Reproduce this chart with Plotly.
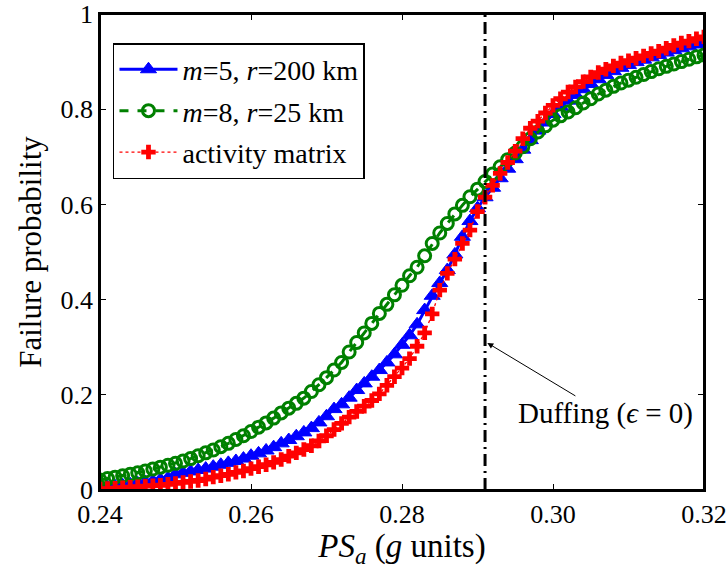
import plotly.graph_objects as go

# PSa values (g units), 0.240 .. 0.320 step 0.001
psa = [round(0.240 + 0.001 * i, 3) for i in range(81)]

blue_m5_r200 = [
    0.004, 0.006, 0.008, 0.010, 0.012, 0.014, 0.017, 0.019, 0.022, 0.025,
    0.033, 0.036, 0.039, 0.042, 0.045, 0.049, 0.053, 0.057, 0.061, 0.066,
    0.072, 0.077, 0.083, 0.090, 0.098, 0.105, 0.113, 0.121, 0.130, 0.142,
    0.155, 0.170, 0.180, 0.194, 0.210, 0.224, 0.238, 0.252, 0.268, 0.285,
    0.305, 0.325, 0.348, 0.378, 0.408, 0.435, 0.462, 0.495, 0.532, 0.565,
    0.592, 0.615, 0.635, 0.655, 0.675, 0.695, 0.715, 0.735, 0.755, 0.772,
    0.790, 0.805, 0.818, 0.830, 0.842, 0.853, 0.863, 0.872, 0.880, 0.887,
    0.893, 0.899, 0.904, 0.909, 0.914, 0.919, 0.924, 0.928, 0.932, 0.936,
    0.940,
]

green_m8_r25 = [
    0.021, 0.024, 0.027, 0.030, 0.033, 0.036, 0.040, 0.044, 0.048, 0.052,
    0.056, 0.061, 0.066, 0.072, 0.078, 0.084, 0.091, 0.098, 0.106, 0.114,
    0.123, 0.132, 0.141, 0.151, 0.162, 0.172, 0.182, 0.193, 0.207, 0.221,
    0.236, 0.252, 0.268, 0.290, 0.310, 0.330, 0.350, 0.371, 0.390, 0.410,
    0.430, 0.450, 0.468, 0.492, 0.518, 0.540, 0.560, 0.580, 0.598, 0.616,
    0.632, 0.648, 0.664, 0.679, 0.694, 0.708, 0.721, 0.738, 0.752, 0.765,
    0.777, 0.786, 0.794, 0.803, 0.813, 0.822, 0.832, 0.840, 0.848, 0.855,
    0.861, 0.867, 0.873, 0.879, 0.885, 0.890, 0.895, 0.900, 0.905, 0.910,
    0.914,
]

red_activity = [
    0.002, 0.003, 0.004, 0.005, 0.006, 0.007, 0.008, 0.009, 0.010, 0.012,
    0.014, 0.016, 0.018, 0.020, 0.023, 0.027, 0.030, 0.033, 0.037, 0.040,
    0.045, 0.049, 0.053, 0.058, 0.064, 0.071, 0.078, 0.085, 0.093, 0.103,
    0.114, 0.127, 0.140, 0.153, 0.165, 0.176, 0.188, 0.202, 0.220, 0.238,
    0.256, 0.276, 0.302, 0.330, 0.370, 0.420, 0.455, 0.485, 0.518, 0.546,
    0.585, 0.615, 0.640, 0.665, 0.688, 0.712, 0.738, 0.760, 0.775, 0.792,
    0.808, 0.822, 0.836, 0.847, 0.858, 0.868, 0.877, 0.884, 0.891, 0.897,
    0.902, 0.907, 0.912, 0.917, 0.922, 0.928, 0.934, 0.939, 0.943, 0.948,
    0.952,
]

duffing_x = 0.291
duffing_arrow_y = 0.309

x_ticks = [0.24, 0.26, 0.28, 0.30, 0.32]
x_tick_labels = ["0.24", "0.26", "0.28", "0.30", "0.32"]
y_ticks = [0, 0.2, 0.4, 0.6, 0.8, 1]
y_tick_labels = ["0", "0.2", "0.4", "0.6", "0.8", "1"]

names = [
    "<i>m</i>=5, <i>r</i>=200 km",
    "<i>m</i>=8, <i>r</i>=25 km",
    "activity matrix",
]

FONT = "Liberation Serif"

fig = go.Figure()

fig.add_trace(go.Scatter(
    x=psa, y=blue_m5_r200, mode="lines+markers", name=names[0],
    legendgroup="a",
    line=dict(color="#0000FF", width=3),
    marker=dict(symbol="triangle-up", size=14, color="#0000FF",
                line=dict(color="#0000FF", width=1)),
))
fig.add_trace(go.Scatter(
    x=psa, y=green_m8_r25, mode="lines+markers", name=names[1],
    legendgroup="b",
    line=dict(color="#008000", width=3, dash="dash"),
    marker=dict(symbol="circle-open", size=12, color="#008000",
                line=dict(color="#008000", width=3)),
))
fig.add_trace(go.Scatter(
    x=psa, y=red_activity, mode="lines+markers", name=names[2],
    legendgroup="c",
    line=dict(color="#FF0000", width=1.3, dash="dot"),
    marker=dict(symbol="cross", size=12, color="#FF0000",
                line=dict(width=0)),
))

fig.add_shape(type="line", xref="x", yref="y",
              x0=duffing_x, x1=duffing_x, y0=0, y1=1,
              line=dict(color="black", width=3, dash="12px,5px,2px,5px"))

# plot frame around the axes domain
fig.add_shape(type="rect", xref="x domain", yref="y domain",
              x0=0, x1=1, y0=0, y1=1, layer="above",
              line=dict(color="black", width=2))

fig.add_annotation(
    x=duffing_x + 0.0003, y=duffing_arrow_y, xref="x", yref="y",
    text="Duffing (<i>ϵ</i> = 0)", showarrow=True,
    arrowhead=2, arrowsize=1.2, arrowwidth=1, arrowcolor="black",
    ax=118, ay=71,
    font=dict(family=FONT, size=29, color="black"),
)

axis_common = dict(
    showgrid=False, zeroline=False, showline=True, linecolor="black",
    linewidth=1.6, mirror="allticks", ticks="inside", ticklen=6,
    tickcolor="black", tickwidth=1,
    tickfont=dict(family=FONT, size=26, color="black"),
    automargin=False,
)

fig.update_xaxes(
    range=[0.24, 0.32], tickvals=x_ticks, ticktext=x_tick_labels,
    title=dict(text="<i>PS</i><sub><i>a</i></sub> (<i>g</i> units)",
               font=dict(family=FONT, size=33, color="black"), standoff=6),
    **axis_common,
)
fig.update_yaxes(
    range=[0, 1], tickvals=y_ticks, ticktext=y_tick_labels,
    title=dict(text="Failure probability",
               font=dict(family=FONT, size=31, color="black"), standoff=10),
    **axis_common,
)

fig.update_layout(
    width=728, height=569,
    margin=dict(l=100, r=24, t=14, b=79, autoexpand=False),
    paper_bgcolor="white", plot_bgcolor="white",
    showlegend=True,
    legend=dict(
        x=0.0215, y=0.939, xanchor="left", yanchor="top",
        bgcolor="white", bordercolor="black", borderwidth=1.5,
        font=dict(family=FONT, size=28, color="black"),
        tracegroupgap=2, itemwidth=58,
    ),
)

# remove the default page margin so the figure sits at the window's top-left
fig.write_html(
    "out.html",
    config={"displayModeBar": False},
    post_script="document.body.style.margin='0';document.body.style.overflow='hidden';",
)
